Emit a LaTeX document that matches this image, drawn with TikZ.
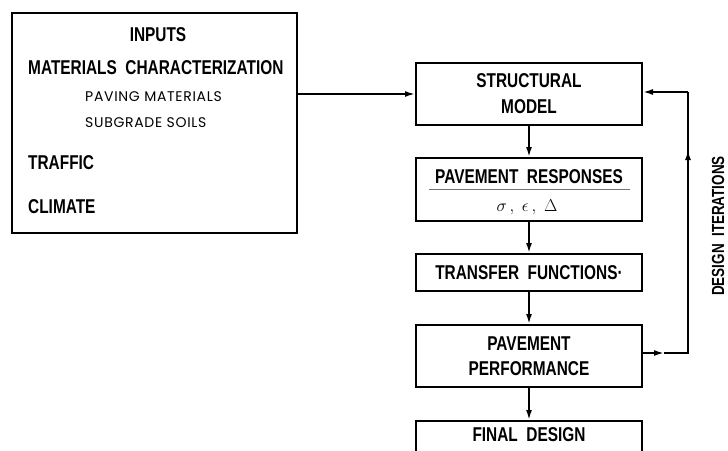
\documentclass[tikz,border=0pt]{standalone}
\usepackage{fontspec}
\setmainfont[FakeStretch=0.77]{Liberation Sans}
\newfontfamily\subfont[LetterSpace=5]{Poppins}
\usetikzlibrary{arrows.meta,calc}

\begin{document}
\begin{tikzpicture}[x=1pt,y=-1pt,
  boxline/.style={draw,line width=2pt},
  stepbox/.style={boxline,minimum width=226pt,inner sep=0pt,align=center,
    font=\fontsize{20}{26}\selectfont\bfseries},
  lbl/.style={inner sep=0pt,font=\fontsize{20}{22}\selectfont\bfseries},
  sublbl/.style={inner sep=0pt,font=\fontsize{14}{16}\subfont},
  conn/.style={line width=1.8pt},
  arr/.style={conn,-{Latex[length=10pt,width=6pt]}}
]
\useasboundingbox (0,0) rectangle (728,450);

% inputs panel
\node[boxline,minimum width=285pt,minimum height=220pt] (inputs) at (154.5,123) {};
\node[lbl] (tin) at (158,35) {INPUTS};
\node[lbl,anchor=west] (tmat) at (28,68) {MATERIALS\ \ CHARACTERIZATION};
\node[sublbl,anchor=west] (tpav) at (85,97) {PAVING MATERIALS};
\node[sublbl,anchor=west] (tsub) at (85,123) {SUBGRADE SOILS};
\node[lbl,anchor=west] (ttra) at (28,163) {TRAFFIC};
\node[lbl,anchor=west] (tcli) at (28,207) {CLIMATE};

% design chain
\node[stepbox,minimum height=62pt] (struct) at (529,94) {STRUCTURAL\\MODEL};
\node[stepbox,minimum height=63pt] (resp) at (529,189.5) {};
\node[lbl] (tresp) at (529,177) {PAVEMENT\ \ RESPONSES};
\node[inner sep=0pt,font=\fontsize{18}{20}\selectfont] (tsym) at (527,207) {$\sigma\,,\;\epsilon\,,\;\Delta$};
\draw[line width=0.8pt,black!55] ($(resp.west)+(14,0)$) -- ($(resp.east)+(-13,0)$);
\node[stepbox,minimum height=37pt] (trans) at (529,272.5) {TRANSFER\ \ FUNCTIONS\textperiodcentered};
\node[stepbox,minimum height=62pt,font=\fontsize{20}{25}\selectfont\bfseries] (perf) at (529,356) {PAVEMENT\\PERFORMANCE};
\node[stepbox,minimum height=62pt,anchor=north,text height=14pt,text depth=36pt] (final) at (529,420) {FINAL\ \ DESIGN};

% connectors
\draw[arr] (struct.west -| inputs.east) -- (struct.west);
\draw[arr] (struct.south) -- (resp.north);
\draw[arr] (resp.south) -- (trans.north);
\draw[arr] (trans.south) -- (perf.north);
\draw[arr] (perf.south) -- (final.north);

% iteration loop
\coordinate (lb) at (688,353);
\coordinate (lt) at (688,92);
\coordinate (mr) at (664,353);
\coordinate (mu) at (688,150);
\draw[arr] (perf.east |- lb) -- (mr);
\draw[conn] (mr) -- (lb) -- (mu);
\draw[arr] (lb) -- (mu);
\draw[conn] (mu) -- (lt);
\draw[arr] (lt) -- (struct.east |- lt);
\node[lbl,rotate=90,font=\fontsize{17.5}{18}\selectfont\bfseries] (titer) at (718,226) {DESIGN\ \ ITERATIONS};
\end{tikzpicture}
\end{document}
